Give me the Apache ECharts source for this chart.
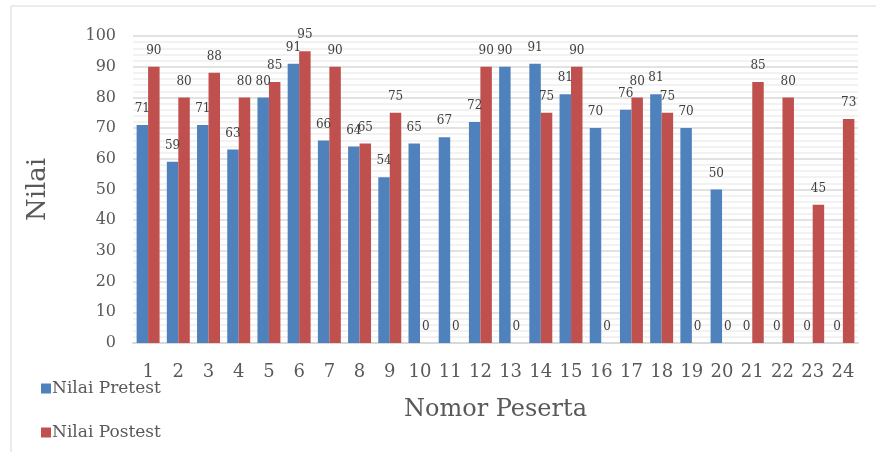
<!DOCTYPE html>
<html>
<head>
<meta charset="utf-8">
<script src="https://cdn.jsdelivr.net/npm/echarts@6/dist/echarts.min.js"></script>
<style>html,body{margin:0;padding:0;background:#fff}#c{width:876px;height:452px}</style>
</head>
<body>
<div id="c"></div>
<script>
const categories = ['1','2','3','4','5','6','7','8','9','10','11','12','13','14','15','16','17','18','19','20','21','22','23','24'];
const pretest = [71,59,71,63,80,91,66,64,54,65,67,72,90,91,81,70,76,81,70,50,0,0,0,0];
const postest = [90,80,88,80,85,95,90,65,75,0,0,90,0,75,90,0,80,75,0,0,85,80,45,73];
const seriesNames = ['Nilai Pretest','Nilai Postest'];
const yTicks = [0,10,20,30,40,50,60,70,80,90,100];

const FONT = 'DejaVu Serif';
const chart = echarts.init(document.getElementById('c'));
const labelCfg = {show:true, position:'top', distance:10, color:'#404040', fontFamily:FONT, fontSize:12};
chart.setOption({
  animation:false,
  textStyle:{fontFamily:FONT},
  graphic:[{type:'rect', shape:{x:11, y:6, width:900, height:500}, style:{fill:'none', stroke:'#d9d9d9', lineWidth:1}, silent:true}],
  grid:{left:133, right:18, top:36, bottom:109},
  legend:{orient:'vertical', left:36, top:375, itemGap:27, itemWidth:10, itemHeight:10, icon:'rect',
    textStyle:{fontFamily:FONT, fontSize:17, color:'#595959', padding:[0,0,0,-4]}, data:seriesNames},
  xAxis:{type:'category', data:categories, name:'Nomor Peserta', nameLocation:'middle', nameGap:55,
    nameTextStyle:{fontFamily:FONT, fontSize:24, color:'#595959'},
    axisLine:{lineStyle:{color:'#d9d9d9', width:2}}, axisTick:{show:false},
    axisLabel:{fontFamily:FONT, fontSize:18, color:'#595959', margin:20, interval:0}},
  yAxis:{type:'value', min:yTicks[0], max:yTicks[yTicks.length-1], interval:10, name:'Nilai', nameLocation:'middle', nameGap:82,
    nameTextStyle:{fontFamily:FONT, fontSize:26, color:'#595959'},
    axisLabel:{fontFamily:FONT, fontSize:16, color:'#595959', margin:17},
    splitLine:{lineStyle:{color:'#d9d9d9', width:1.5}},
    minorTick:{show:false, splitNumber:5},
    minorSplitLine:{show:true, lineStyle:{color:'#eeeeee', width:1.5}}},
  series:[
    {name:seriesNames[0], type:'bar', data:pretest, barGap:'0%', barCategoryGap:'24%', itemStyle:{color:'#4f81bd'}, label:labelCfg},
    {name:seriesNames[1], type:'bar', data:postest, barGap:'0%', barCategoryGap:'24%', itemStyle:{color:'#c0504d'}, label:labelCfg}
  ]
});
</script>
</body>
</html>
